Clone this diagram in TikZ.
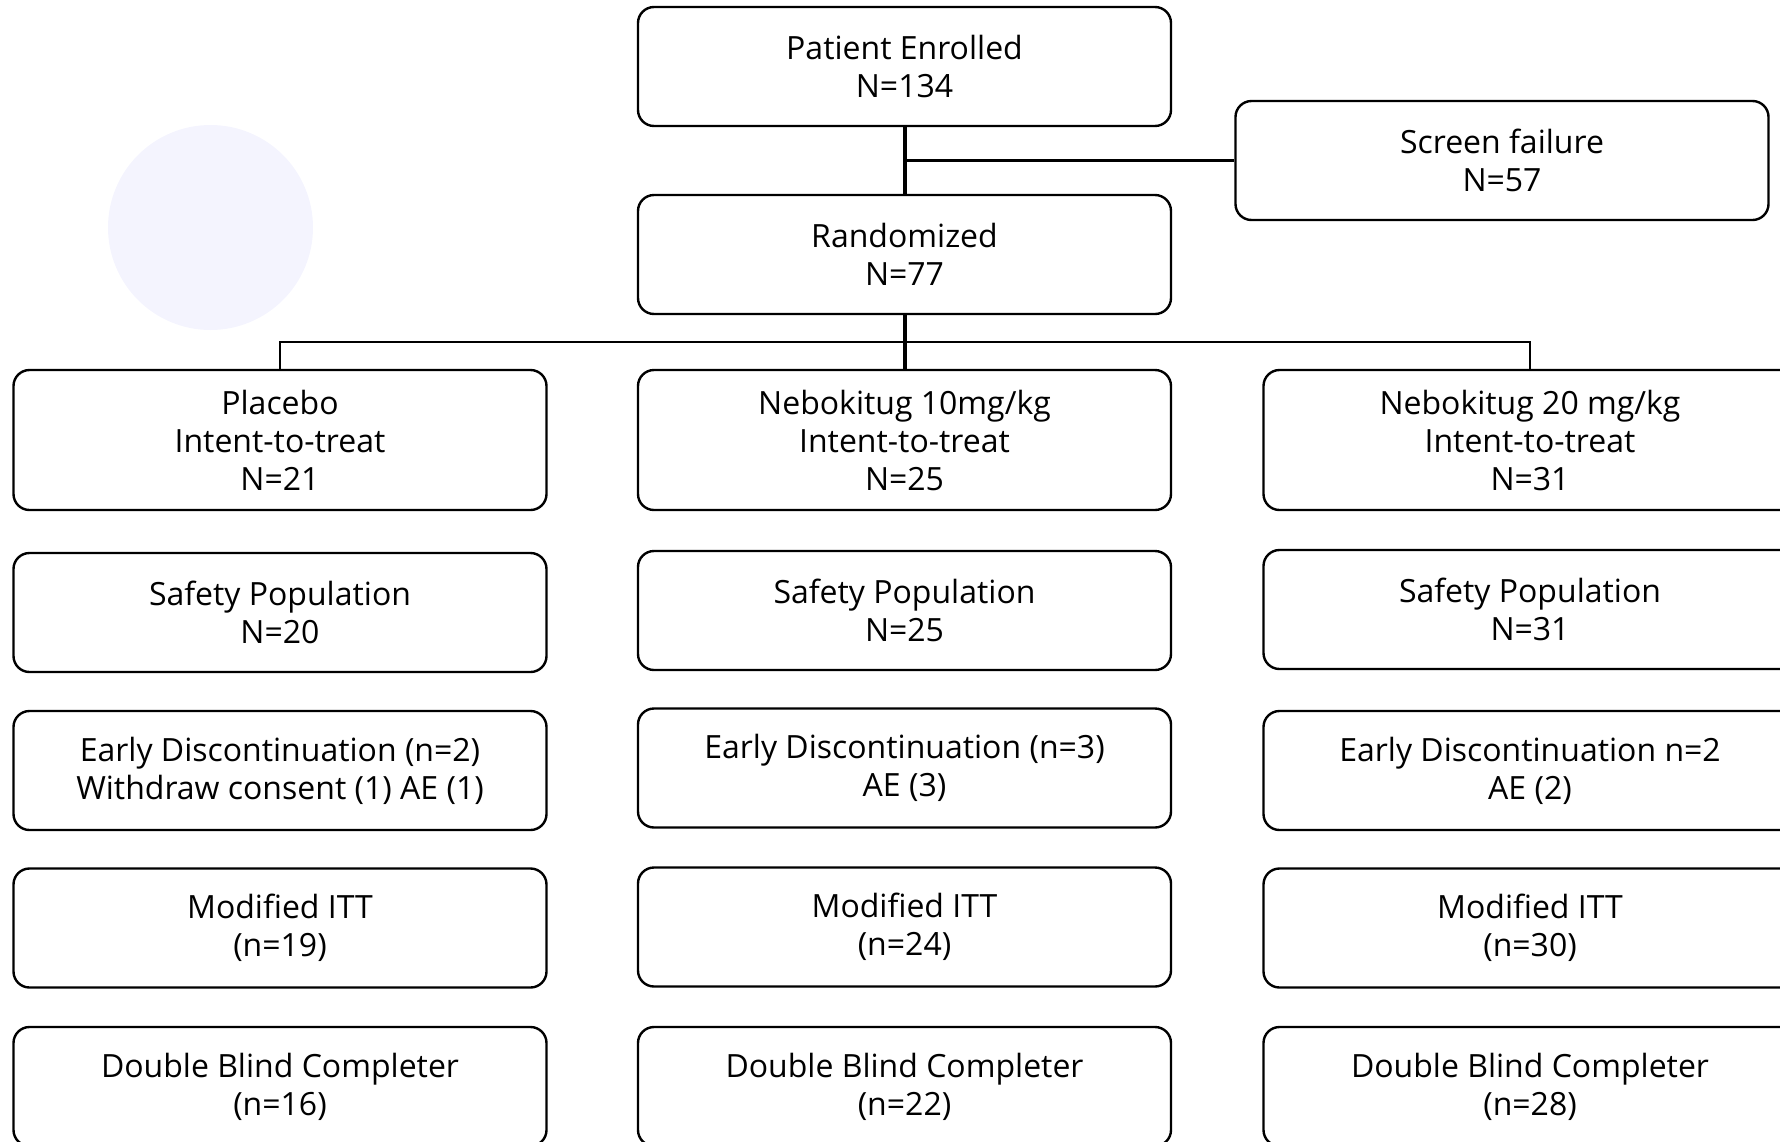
\documentclass[tikz,border=0pt]{standalone}
\usepackage{fontspec}
\setmainfont{Open Sans}
\definecolor{blob}{HTML}{F4F4FE}
\tikzset{
  stage/.style={draw=black, line width=2.4pt, rounded corners=16pt,
    minimum width=533pt, minimum height=119pt, align=center, inner sep=0pt,
    font=\fontsize{32}{38}\selectfont, text=black},
  tall/.style={minimum height=140pt},
  trunk/.style={line width=4pt, draw=black},
  link/.style={line width=2.2pt, draw=black},
}
\begin{document}
\begin{tikzpicture}[x=1pt, y=-1pt]
\useasboundingbox (0,0) rectangle (1780,1141);
\clip (0,0) rectangle (1780,1141);
\fill[blob] (210.5,227.5) circle (102.5);

\node[stage] (pe) at (904.5,66.5) {Patient Enrolled\\N=134};
\node[stage] (sf) at (1502,160.5) {Screen failure\\N=57};
\node[stage] (rand) at (904.5,254.5) {Randomized\\N=77};

\node[stage,tall] (itt1) at (280,440) {Placebo\\Intent-to-treat\\N=21};
\node[stage,tall] (itt2) at (904.5,440) {Nebokitug 10mg/kg\\Intent-to-treat\\N=25};
\node[stage,tall] (itt3) at (1530,440) {Nebokitug 20 mg/kg\\Intent-to-treat\\N=31};

\node[stage] (saf1) at (280,612.5) {Safety Population\\N=20};
\node[stage] (saf2) at (904.5,610.5) {Safety Population\\N=25};
\node[stage] (saf3) at (1530,609.5) {Safety Population\\N=31};

\node[stage] (ed1) at (280,770.5) {Early Discontinuation (n=2)\\Withdraw consent (1) AE (1)};
\node[stage] (ed2) at (904.5,768) {Early Discontinuation (n=3)\\AE (3)};
\node[stage] (ed3) at (1530,770.5) {Early Discontinuation n=2\\AE (2)};

\node[stage] (mitt1) at (280,928) {Modified ITT\\(n=19)};
\node[stage] (mitt2) at (904.5,927) {Modified ITT\\(n=24)};
\node[stage] (mitt3) at (1530,928) {Modified ITT\\(n=30)};

\node[stage] (dbc1) at (280,1086.5) {Double Blind Completer\\(n=16)};
\node[stage] (dbc2) at (904.5,1086.5) {Double Blind Completer\\(n=22)};
\node[stage] (dbc3) at (1530,1086.5) {Double Blind Completer\\(n=28)};

\coordinate (br) at (904.5,342);

\draw[trunk] (pe.south) -- (rand.north);
\draw[link] (sf.west) -- (sf.west -| pe.south);
\draw[trunk] (rand.south) -- (itt2.north);
\draw[link] (itt1.north) -- (itt1.north |- br) -- (itt3.north |- br) -- (itt3.north);
\end{tikzpicture}
\end{document}
